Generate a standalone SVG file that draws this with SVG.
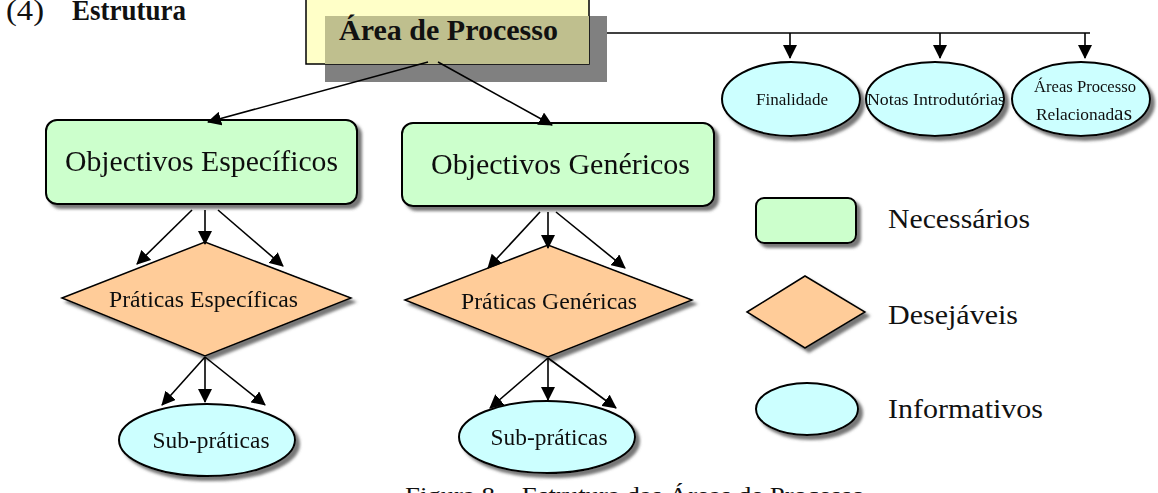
<svg xmlns="http://www.w3.org/2000/svg" width="1158" height="493" viewBox="0 0 1158 493">
<defs>
<filter id="sh" x="-20%" y="-20%" width="150%" height="150%">
<feGaussianBlur in="SourceAlpha" stdDeviation="1.5"/>
<feOffset dx="4" dy="4" result="b"/>
<feFlood flood-color="#555" flood-opacity="0.8"/>
<feComposite in2="b" operator="in" result="s"/>
<feMerge><feMergeNode in="s"/><feMergeNode in="SourceGraphic"/></feMerge>
</filter>
<marker id="ah" markerWidth="14" markerHeight="14" refX="13" refY="7" orient="auto" markerUnits="userSpaceOnUse">
<path d="M0,0 L14,7 L0,14 Z" fill="#000"/>
</marker>
</defs>
<style>
text{font-family:"Liberation Serif","Times New Roman",serif;fill:#111}
.req{fill:#CCFFCC;stroke:#000;stroke-width:2}
.des{fill:#FFCC99;stroke:#000;stroke-width:1.5}
.inf{fill:#CCFFFF;stroke:#000;stroke-width:2}
.con{stroke:#000;stroke-width:1.6;fill:none;marker-end:url(#ah)}
.big{font-size:30px}
.mid{font-size:24px}
.sub{font-size:23px}
.sm{font-size:17px}
.leg{font-size:27px}
</style>
<rect width="1158" height="493" fill="#fff"/>
<g id="title">
<text x="6" y="20" font-size="30" textLength="38" lengthAdjust="spacingAndGlyphs">(4)</text>
<text x="72" y="20" font-size="30" font-weight="bold" textLength="114" lengthAdjust="spacingAndGlyphs">Estrutura</text>
</g>
<g id="area-processo">
<rect x="325" y="16" width="282" height="66" fill="#808080"/>
<rect x="306" y="-20" width="283" height="84" fill="#FFFFC8" stroke="#000" stroke-width="1.5"/>
<rect x="325" y="16" width="264" height="48" fill="#BFBF8E"/>
<text x="339" y="40" font-size="29" font-weight="bold" textLength="219" lengthAdjust="spacingAndGlyphs">Área de Processo</text>
</g>
<g id="finalidade" filter="url(#sh)">
<ellipse class="inf" cx="791" cy="99" rx="69" ry="37"/>
<text x="792" y="105" class="sm" text-anchor="middle" textLength="72" lengthAdjust="spacingAndGlyphs">Finalidade</text>
</g>
<g id="notas" filter="url(#sh)">
<ellipse class="inf" cx="935" cy="99" rx="69" ry="37"/>
<text x="867" y="105" class="sm" textLength="138" lengthAdjust="spacingAndGlyphs">Notas Introdutórias</text>
</g>
<g id="areas-relacionadas" filter="url(#sh)">
<ellipse class="inf" cx="1081" cy="99" rx="69" ry="37"/>
<text x="1085" y="92" class="sm" text-anchor="middle" textLength="102" lengthAdjust="spacingAndGlyphs">Áreas Processo</text>
<text x="1036" y="120" class="sm" textLength="96" lengthAdjust="spacingAndGlyphs">Relacionad<tspan font-size="21">as</tspan></text>
</g>
<g id="obj-especificos" filter="url(#sh)">
<rect class="req" x="46" y="120" width="311" height="84" rx="11"/>
<text x="65" y="171" class="big" textLength="273" lengthAdjust="spacingAndGlyphs">Objectivos Específicos</text>
</g>
<g id="obj-genericos" filter="url(#sh)">
<rect class="req" x="402" y="123" width="312" height="83" rx="11"/>
<text x="431" y="174" class="big" textLength="259" lengthAdjust="spacingAndGlyphs">Objectivos Genéricos</text>
</g>
<g id="prat-especificas" filter="url(#sh)">
<polygon class="des" points="62,298 205,242 351,298 205,356"/>
<text x="109" y="307" class="mid" textLength="189" lengthAdjust="spacingAndGlyphs">Práticas Específicas</text>
</g>
<g id="prat-genericas" filter="url(#sh)">
<polygon class="des" points="405,300 548,245 692,300 548,357"/>
<text x="461" y="309" class="mid" textLength="176" lengthAdjust="spacingAndGlyphs">Práticas Genéricas</text>
</g>
<g id="sub-praticas-1" filter="url(#sh)">
<ellipse class="inf" cx="207" cy="440" rx="88" ry="36"/>
<text x="211" y="448" class="sub" text-anchor="middle" textLength="117" lengthAdjust="spacingAndGlyphs">Sub-práticas</text>
</g>
<g id="sub-praticas-2" filter="url(#sh)">
<ellipse class="inf" cx="547" cy="437" rx="88" ry="36"/>
<text x="549" y="445" class="sub" text-anchor="middle" textLength="117" lengthAdjust="spacingAndGlyphs">Sub-práticas</text>
</g>
<g id="legend">
<g filter="url(#sh)"><rect class="req" x="756" y="198" width="100" height="45" rx="8"/></g>
<text x="888" y="228" class="leg" textLength="142" lengthAdjust="spacingAndGlyphs">Necessários</text>
<g filter="url(#sh)"><polygon class="des" points="747,312 805,276 865,312 805,348"/></g>
<text x="888" y="324" class="leg" textLength="130" lengthAdjust="spacingAndGlyphs">Desejáveis</text>
<g filter="url(#sh)"><ellipse class="inf" cx="807" cy="409" rx="51" ry="26"/></g>
<text x="888" y="418" class="leg" textLength="155" lengthAdjust="spacingAndGlyphs">Informativos</text>
</g>
<g id="connectors">
<line x1="607" y1="33" x2="1090" y2="33" stroke="#000" stroke-width="1.6"/>
<line class="con" x1="790" y1="33" x2="790" y2="58"/>
<line class="con" x1="940" y1="33" x2="940" y2="58"/>
<line class="con" x1="1085" y1="33" x2="1085" y2="58"/>
<line class="con" x1="428" y1="62" x2="208" y2="122"/>
<line class="con" x1="438" y1="62" x2="552" y2="125"/>
<line class="con" x1="192" y1="210" x2="137" y2="264"/>
<line class="con" x1="205" y1="210" x2="205" y2="244"/>
<line class="con" x1="218" y1="210" x2="283" y2="266"/>
<line class="con" x1="540" y1="212" x2="488" y2="268"/>
<line class="con" x1="548" y1="212" x2="548" y2="248"/>
<line class="con" x1="556" y1="212" x2="625" y2="268"/>
<line class="con" x1="205" y1="357" x2="162" y2="405"/>
<line class="con" x1="205" y1="357" x2="205" y2="402"/>
<line class="con" x1="205" y1="357" x2="265" y2="405"/>
<line class="con" x1="548" y1="358" x2="490" y2="408"/>
<line class="con" x1="548" y1="358" x2="548" y2="400"/>
<line class="con" x1="548" y1="358" x2="616" y2="408"/>
</g>
<text id="caption" x="405" y="503" font-size="24" textLength="460" lengthAdjust="spacingAndGlyphs">Figura 8 – Estrutura das Áreas de Processo</text>
</svg>
